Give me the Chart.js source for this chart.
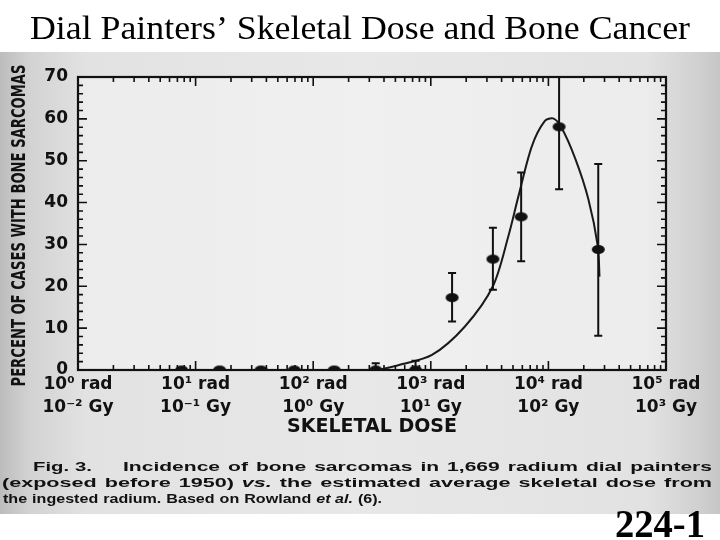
<!DOCTYPE html>
<html>
<head>
<meta charset="utf-8">
<script src="https://cdn.jsdelivr.net/npm/chart.js@4/dist/chart.umd.min.js"></script>
<style>
  html, body { margin: 0; padding: 0; background: #fff; }
  #wrap { position: relative; width: 720px; height: 540px; }
  canvas { display: block; }
</style>
</head>
<body>
<div id="wrap"><canvas id="chart" width="720" height="540"></canvas></div>
<script>
// Axis tick positions and their two-line labels (rad / Gy)
const decades = [1, 10, 100, 1000, 10000, 100000];
const radLabels = ['10⁰ rad', '10¹ rad', '10² rad', '10³ rad', '10⁴ rad', '10⁵ rad'];
const gyLabels = ['10⁻² Gy', '10⁻¹ Gy', '10⁰ Gy', '10¹ Gy', '10² Gy', '10³ Gy'];
const percentTicks = [0, 10, 20, 30, 40, 50, 60, 70];

// Observed incidence per dose group (skeletal dose in rad)
const doseRad = [7.6, 16, 36, 69, 151, 340, 742, 1517, 3373, 5866, 12330, 26540];
const percent = [0, 0, 0, 0, 0, 0, 0, 17.3, 26.5, 36.6, 58.1, 28.8];
const errLow = [0, 0, 0, 0, 0, 0, 0, 11.6, 19.2, 26, 43.2, 8.2];
const errHigh = [0, 0, 0, 0, 0, 1.6, 2.2, 23.2, 34, 47.2, 70, 49.2];

// Fitted dose-response curve
const fitDose = [355, 537, 1023, 1950, 3373, 4570, 5570, 7240, 9330, 10960, 12880, 16980, 21880, 26300, 27200];
const fitPercent = [0, 1.2, 3.6, 10.4, 20, 32, 41.6, 53.5, 59.5, 60.1, 58, 50.4, 40.8, 29.6, 22.3];

const INK = '#111';
const tickFont = '"DejaVu Sans", "Liberation Sans", sans-serif';
const yTitle = 'PERCENT OF CASES WITH BONE SARCOMAS';

// Filled elliptical marker
const marker = document.createElement('canvas');
marker.width = 15; marker.height = 11;
(function () {
  const c = marker.getContext('2d');
  c.fillStyle = INK;
  c.beginPath();
  c.ellipse(7.5, 5.5, 6.5, 4.5, 0, 0, Math.PI * 2);
  c.fill();
})();

// Paper background: white page with a grey scanned band
const paper = {
  id: 'paper',
  beforeDraw(chart) {
    const ctx = chart.ctx;
    ctx.save();
    ctx.fillStyle = '#fff';
    ctx.fillRect(0, 0, 720, 540);
    const g = ctx.createLinearGradient(0, 0, 720, 0);
    g.addColorStop(0, '#bcbcbc');
    g.addColorStop(0.04, '#d2d2d2');
    g.addColorStop(0.12, '#e2e2e2');
    g.addColorStop(0.5, '#e8e8e8');
    g.addColorStop(0.9, '#e2e2e2');
    g.addColorStop(0.97, '#d0d0d0');
    g.addColorStop(1, '#c6c6c6');
    ctx.fillStyle = g;
    ctx.fillRect(0, 52, 720, 462);
    const a = chart.chartArea;
    ctx.fillStyle = 'rgba(255,255,255,0.35)';
    ctx.fillRect(a.left, a.top, a.right - a.left, a.bottom - a.top);
    ctx.restore();
  }
};

// Frame with inward major/minor ticks on all four sides, plus error bars
const frame = {
  id: 'frame',
  afterDatasetsDraw(chart) {
    const ctx = chart.ctx;
    const a = chart.chartArea;
    const xs = chart.scales.x, ys = chart.scales.y;
    ctx.save();
    ctx.strokeStyle = INK;
    ctx.lineCap = 'butt';

    // error bars
    ctx.lineWidth = 2;
    doseRad.forEach((d, i) => {
      if (errHigh[i] <= errLow[i]) return;
      const x = xs.getPixelForValue(d);
      const y1 = ys.getPixelForValue(errLow[i]);
      const y2 = ys.getPixelForValue(errHigh[i]);
      ctx.beginPath();
      ctx.moveTo(x, y1); ctx.lineTo(x, y2);
      ctx.moveTo(x - 4, y2); ctx.lineTo(x + 4, y2);
      if (errLow[i] > 0) { ctx.moveTo(x - 4, y1); ctx.lineTo(x + 4, y1); }
      ctx.stroke();
    });

    // y ticks (left and right)
    ctx.lineWidth = 1.6;
    ctx.beginPath();
    for (let v = 0; v <= 70; v += 2) {
      const y = ys.getPixelForValue(v);
      const len = v % 10 === 0 ? 9 : 5;
      ctx.moveTo(a.left, y); ctx.lineTo(a.left + len, y);
      ctx.moveTo(a.right, y); ctx.lineTo(a.right - len, y);
    }
    // x ticks (bottom and top), log minors
    for (let e = 0; e < 5; e++) {
      for (let m = 1; m <= 9; m++) {
        const x = xs.getPixelForValue(m * Math.pow(10, e));
        const len = m === 1 ? 9 : 5;
        ctx.moveTo(x, a.bottom); ctx.lineTo(x, a.bottom - len);
        ctx.moveTo(x, a.top); ctx.lineTo(x, a.top + len);
      }
    }
    ctx.stroke();

    // frame
    ctx.lineWidth = 2.2;
    ctx.strokeRect(a.left, a.top, a.right - a.left, a.bottom - a.top);
    ctx.restore();
  }
};

// Draws a run of text segments stretched to a given width
function fitRun(ctx, segs, x, y, width) {
  let total = 0;
  segs.forEach(s => { ctx.font = s.font; s.w = ctx.measureText(s.text).width; total += s.w; });
  const sx = width / total;
  ctx.save();
  ctx.translate(x, y);
  ctx.scale(sx, 1);
  let cx = 0;
  segs.forEach(s => { ctx.font = s.font; ctx.fillText(s.text, cx, 0); cx += s.w; });
  ctx.restore();
}

// Caption line set with a fixed word gap; words are stretched to fill the width
function justify(ctx, words, x, y, width, gap) {
  let natural = 0;
  words.forEach(w => { ctx.font = w.font; w.w = ctx.measureText(w.text).width; natural += w.w; });
  const sx = (width - gap * (words.length - 1)) / natural;
  let cx = x;
  words.forEach(w => {
    ctx.save();
    ctx.translate(cx, y);
    ctx.scale(sx, 1);
    ctx.font = w.font;
    ctx.fillText(w.text, 0, 0);
    ctx.restore();
    cx += w.w * sx + gap;
  });
}

function wordsOf(text, font) {
  return text.split(' ').filter(Boolean).map(t => ({ text: t, font }));
}

// Slide title, axis title, figure caption and slide number
const texts = {
  id: 'texts',
  afterDraw(chart) {
    const ctx = chart.ctx;
    ctx.save();
    ctx.fillStyle = '#000';
    ctx.textBaseline = 'alphabetic';
    ctx.textAlign = 'left';
    fitRun(ctx, [{ text: 'Dial Painters’ Skeletal Dose and Bone Cancer', font: '34px "Liberation Serif", serif' }], 30, 39, 660);

    // vertical axis title
    const a = chart.chartArea;
    ctx.fillStyle = INK;
    ctx.textBaseline = 'middle';
    ctx.save();
    ctx.translate(20, (a.top + a.bottom) / 2 + 2);
    ctx.rotate(-Math.PI / 2);
    fitRun(ctx, [{ text: yTitle, font: 'bold 20px "DejaVu Sans Condensed", "DejaVu Sans", sans-serif' }], -161, 0, 322);
    ctx.restore();

    // caption
    const b = 'bold 13px "Liberation Sans", Arial, sans-serif';
    const bi = 'bold italic 13px "Liberation Sans", Arial, sans-serif';
    justify(ctx, wordsOf('Fig. 3.', b), 33, 467, 59, 6);
    justify(ctx, wordsOf('Incidence of bone sarcomas in 1,669 radium dial painters', b), 123, 467, 589, 8);
    justify(ctx, [
      ...wordsOf('(exposed before 1950)', b),
      { text: 'vs.', font: bi },
      ...wordsOf('the estimated average skeletal dose from', b)
    ], 2, 483, 710, 8);
    justify(ctx, [
      ...wordsOf('the ingested radium. Based on Rowland', b),
      { text: 'et al.', font: bi },
      { text: '(6).', font: b }
    ], 3, 499, 379, 5);

    ctx.fillStyle = '#000';
    ctx.textBaseline = 'alphabetic';
    fitRun(ctx, [{ text: '224-1', font: 'bold 40px "Liberation Serif", serif' }], 615, 537, 90);
    ctx.restore();
  }
};

new Chart(document.getElementById('chart'), {
  data: {
    datasets: [
      {
        type: 'line',
        data: fitDose.map((d, i) => ({ x: d, y: fitPercent[i] })),
        borderColor: '#1a1a1a',
        borderWidth: 2,
        pointRadius: 0,
        fill: false,
        tension: 0.3
      },
      {
        type: 'scatter',
        data: doseRad.map((d, i) => ({ x: d, y: percent[i] })),
        pointStyle: marker,
        pointRadius: 6
      }
    ]
  },
  options: {
    responsive: false,
    animation: false,
    layout: { padding: { top: 77, right: 54, bottom: 102, left: 0 } },
    plugins: { legend: { display: false }, tooltip: { enabled: false }, title: { display: false } },
    scales: {
      x: {
        type: 'logarithmic',
        min: 1,
        max: 100000,
        grid: { display: false, drawTicks: false },
        border: { display: false },
        afterBuildTicks(scale) { scale.ticks = decades.map(v => ({ value: v })); },
        afterFit(scale) { scale.height = 68; },
        ticks: {
          autoSkip: false,
          maxRotation: 0,
          minRotation: 0,
          padding: 4,
          color: INK,
          font: { family: tickFont, size: 17, weight: 'bold', lineHeight: 1.3 },
          callback: (v, i) => [radLabels[i], gyLabels[i]]
        },
        title: {
          display: true,
          text: 'SKELETAL DOSE',
          color: INK,
          padding: { top: 0, bottom: 0 },
          font: { family: tickFont, size: 19, weight: 'bold', lineHeight: 1.2 }
        }
      },
      y: {
        type: 'linear',
        min: 0,
        max: 70,
        grid: { display: false, drawTicks: false },
        border: { display: false },
        afterBuildTicks(scale) { scale.ticks = percentTicks.map(v => ({ value: v })); },
        afterFit(scale) { scale.width = 78; },
        ticks: {
          padding: 10,
          color: INK,
          font: { family: tickFont, size: 17, weight: 'bold' }
        },
        title: { display: false }
      }
    }
  },
  plugins: [paper, frame, texts]
});
</script>
</body>
</html>
